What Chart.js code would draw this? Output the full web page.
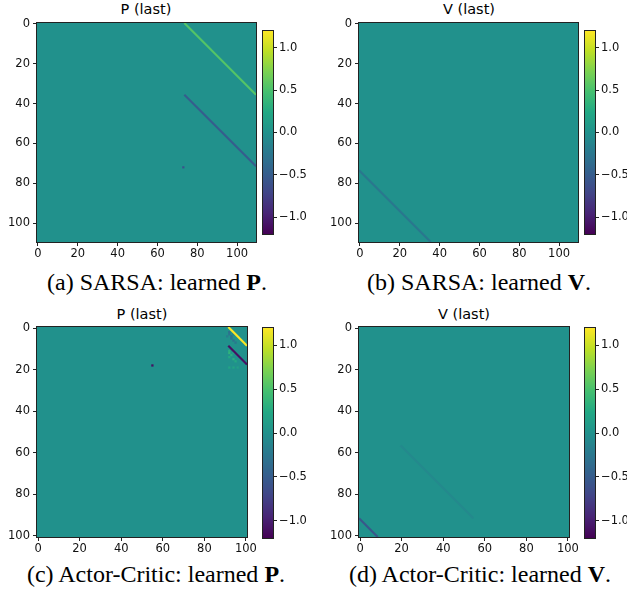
<!DOCTYPE html>
<html><head><meta charset="utf-8">
<script src="https://cdn.jsdelivr.net/npm/chart.js@4.4.1/dist/chart.umd.min.js"></script>
<style>
html,body{margin:0;padding:0;background:#fff;}
body{width:627px;height:592px;position:relative;overflow:hidden;}
canvas{position:absolute;}
.title{position:absolute;font-family:'DejaVu Sans';font-size:14.5px;line-height:1;color:#000;transform:translateX(-50%);white-space:nowrap;}
.cap{position:absolute;font-family:'Liberation Serif';font-size:24px;line-height:1;color:#000;transform:translateX(-50%);white-space:nowrap;}
</style></head><body>
<div class="title" style="left:146px;top:2px;">P (last)</div>
<div class="title" style="left:469px;top:2px;">V (last)</div>
<div class="title" style="left:142px;top:307px;">P (last)</div>
<div class="title" style="left:464px;top:307px;">V (last)</div>
<div class="cap" style="left:157px;top:270px;">(a) SARSA: learned <b>P</b>.</div>
<div class="cap" style="left:479px;top:270px;">(b) SARSA: learned <b>V</b>.</div>
<div class="cap" style="left:156px;top:562px;">(c) Actor-Critic: learned <b>P</b>.</div>
<div class="cap" style="left:480px;top:562px;">(d) Actor-Critic: learned <b>V</b>.</div>
<script>
// ---------------- data ----------------
const colorRange = [-1.2, 1.2];
const colorbarTicks = [-1.0, -0.5, 0.0, 0.5, 1.0];
const axisTicks = [0, 20, 40, 60, 80, 100];
const sizeSarsa = 110;
const sizeActorCritic = 101;
const backgroundValue = 0.0;
// diagonal streaks: [rowStart, colStart, rowEnd, colEnd, value]
const sarsaPStreaks = [[0, 74, 35, 109, 0.55], [36, 74, 71, 109, -0.5]];
const sarsaVStreaks = [[74, 0, 109, 35, -0.25]];
const acPStreaks = [[0, 92, 8, 100, 1.2], [9, 92, 17, 100, -1.1]];
const acVStreaks = [[92, 0, 100, 8, -0.55], [57, 20, 91, 54, -0.08]];
// single cells: [row, col, value]
const sarsaPCells = [[72, 73, -0.6]];
const sarsaVCells = [];
const acPCells = [
  [18, 55, -1.1],
  [2, 92, -0.35], [3, 92, -0.3], [4, 93, -0.35], [5, 93, -0.3], [6, 94, -0.3],
  [4, 91, -0.2], [7, 95, -0.25], [3, 94, -0.2],
  [11, 92, 0.3], [12, 92, 0.35], [13, 93, 0.3], [14, 92, 0.25], [15, 94, 0.3],
  [16, 95, 0.25], [12, 94, 0.2], [19, 92, 0.2], [19, 94, 0.2], [19, 96, 0.15]
];
const acVCells = [];

// ---------------- colormap ----------------
const viridisStops = ['#440154','#482475','#414487','#355f8d','#2a788e','#21918c','#22a884','#44bf70','#7ad151','#bddf26','#fde725'];
function hex2rgb(h){return [parseInt(h.slice(1,3),16),parseInt(h.slice(3,5),16),parseInt(h.slice(5,7),16)];}
const vStops = viridisStops.map(hex2rgb);
function viridis(t){
  t = Math.max(0, Math.min(1, t));
  const p = t * (vStops.length - 1);
  const i = Math.min(vStops.length - 2, Math.floor(p));
  const f = p - i;
  const a = vStops[i], b = vStops[i + 1];
  const c = a.map((v, k) => Math.round(v + (b[k] - v) * f));
  return 'rgb(' + c.join(',') + ')';
}
function colorOf(v){ return viridis((v - colorRange[0]) / (colorRange[1] - colorRange[0])); }

Chart.defaults.font.family = 'DejaVu Sans';
Chart.defaults.font.size = 11.5;
Chart.defaults.color = '#111';

const tickFont = {family: 'DejaVu Sans', size: 11.5};
const frameColor = '#222';

const framePlugin = {
  id: 'frame',
  beforeDatasetsDraw(chart, args, opts){
    if (!opts.fill) return;
    const a = chart.chartArea, c = chart.ctx;
    c.save(); c.fillStyle = opts.fill;
    c.fillRect(a.left, a.top, a.right - a.left, a.bottom - a.top);
    c.restore();
  },
  afterDraw(chart){
    const a = chart.chartArea, c = chart.ctx;
    c.save(); c.strokeStyle = frameColor; c.lineWidth = 1;
    c.strokeRect(Math.round(a.left) - 0.5, Math.round(a.top) - 0.5, Math.round(a.right - a.left) + 1, Math.round(a.bottom - a.top) + 1);
    c.restore();
  }
};

function addCanvas(left, top, w, h){
  const cv = document.createElement('canvas');
  cv.width = w; cv.height = h;
  cv.style.left = left + 'px'; cv.style.top = top + 'px';
  cv.style.width = w + 'px'; cv.style.height = h + 'px';
  document.body.appendChild(cv);
  return cv;
}

function makeHeatmap(box, N, streaks, cells){
  const padL = 40, padT = 10, padR = 16, axH = 20;
  const cv = addCanvas(box.l - padL, box.t - padT, box.w + padL + padR, box.h + padT + axH);
  const cellPx = box.w / N;
  const datasets = streaks.map(s => ({
    type: 'scatter', showLine: true,
    data: [{x: s[1] - 0.5, y: s[0] - 0.5}, {x: s[3] + 0.5, y: s[2] + 0.5}],
    borderColor: colorOf(s[4]), borderWidth: cellPx * 1.05,
    borderCapStyle: 'butt', pointRadius: 0, fill: false
  }));
  datasets.push({
    type: 'scatter',
    data: cells.map(c => ({x: c[1], y: c[0]})),
    backgroundColor: cells.map(c => colorOf(c[2])),
    pointStyle: 'rect', pointRadius: cellPx / Math.SQRT2 * 1.1, borderWidth: 0
  });
  const axisBase = {
    type: 'linear', min: -0.5, max: N - 0.5,
    afterBuildTicks: s => { s.ticks = axisTicks.map(v => ({value: v})); },
    grid: {drawOnChartArea: false, drawTicks: true, tickLength: 4, color: frameColor, lineWidth: 1},
    border: {display: false},
    ticks: {font: tickFont, color: '#111', autoSkip: false, maxRotation: 0, callback: v => String(v)}
  };
  new Chart(cv, {
    type: 'scatter',
    data: {datasets},
    options: {
      responsive: false, animation: false, events: [],
      layout: {padding: {left: 0, top: padT, right: padR, bottom: 0}},
      plugins: {legend: {display: false}, tooltip: {enabled: false}, frame: {fill: colorOf(backgroundValue)}},
      scales: {
        x: Object.assign({}, axisBase, {position: 'bottom', afterFit: s => { s.height = axH; },
          ticks: Object.assign({}, axisBase.ticks, {padding: 1})}),
        y: Object.assign({}, axisBase, {position: 'left', reverse: true, afterFit: s => { s.width = padL; },
          ticks: Object.assign({}, axisBase.ticks, {padding: 3})})
      }
    },
    plugins: [framePlugin]
  });
}

function makeColorbar(box){
  const padL = 1, padV = 8, axW = 50;
  const cv = addCanvas(box.l - padL, box.t - padV, box.w + padL + axW, box.h + 2 * padV);
  new Chart(cv, {
    type: 'bar',
    data: {labels: [''], datasets: [{
      data: [colorRange],
      barPercentage: 1, categoryPercentage: 1, borderWidth: 0,
      backgroundColor: ctx => {
        const ch = ctx.chart; const y = ch.scales.y;
        if (!ch.chartArea || !y) return colorOf(0);
        const g = ch.ctx.createLinearGradient(0, y.getPixelForValue(colorRange[0]), 0, y.getPixelForValue(colorRange[1]));
        for (let i = 0; i <= 40; i++) g.addColorStop(i / 40, viridis(i / 40));
        return g;
      }
    }]},
    options: {
      responsive: false, animation: false, events: [],
      layout: {padding: {left: padL, top: padV, right: 0, bottom: padV}},
      plugins: {legend: {display: false}, tooltip: {enabled: false}, frame: {fill: null}},
      scales: {
        x: {display: false},
        y: {position: 'right', min: colorRange[0], max: colorRange[1],
          afterBuildTicks: s => { s.ticks = colorbarTicks.map(v => ({value: v})); },
          afterFit: s => { s.width = axW; },
          grid: {drawOnChartArea: false, drawTicks: true, tickLength: 4, color: frameColor, lineWidth: 1},
          border: {display: false},
          ticks: {font: tickFont, color: '#111', padding: 2,
            callback: v => (v < 0 ? '\u2212' : '') + Math.abs(v).toFixed(1)}
        }
      }
    },
    plugins: [framePlugin]
  });
}

makeHeatmap({l: 37, t: 23, w: 219, h: 219}, sizeSarsa, sarsaPStreaks, sarsaPCells);
makeHeatmap({l: 359, t: 23, w: 219, h: 219}, sizeSarsa, sarsaVStreaks, sarsaVCells);
makeHeatmap({l: 37, t: 327, w: 210, h: 210}, sizeActorCritic, acPStreaks, acPCells);
makeHeatmap({l: 359, t: 327, w: 210, h: 210}, sizeActorCritic, acVStreaks, acVCells);
makeColorbar({l: 263, t: 30, w: 10, h: 205});
makeColorbar({l: 585, t: 30, w: 10, h: 205});
makeColorbar({l: 263, t: 327, w: 10, h: 212});
makeColorbar({l: 585, t: 327, w: 10, h: 212});
</script>
</body></html>
